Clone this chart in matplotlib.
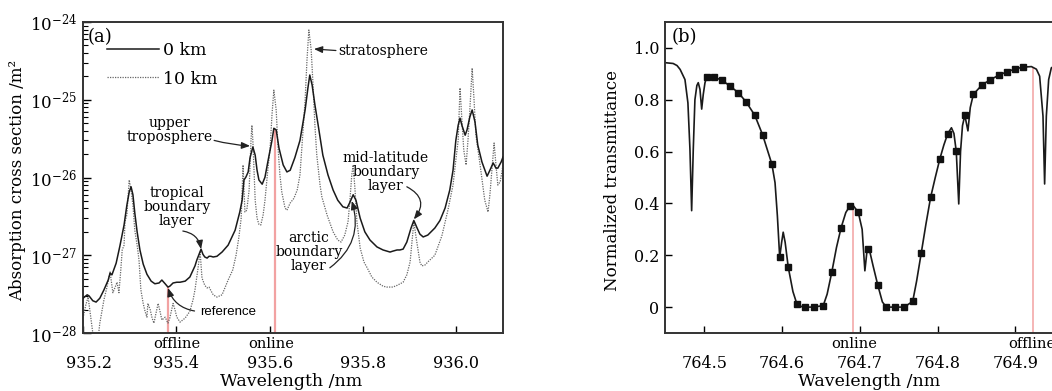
import numpy as np
import matplotlib
matplotlib.use("Agg")
import matplotlib.pyplot as plt
import matplotlib.transforms as mtransforms

# ---- panel (a): absorption cross section, 0 km and 10 km ----
wl_0km = [935.200, 935.209, 935.213, 935.221, 935.228, 935.236, 935.245, 935.254, 935.258, 935.262,
          935.271, 935.279, 935.288, 935.294, 935.299, 935.303, 935.307, 935.311, 935.316, 935.322,
          935.329, 935.337, 935.346, 935.354, 935.363, 935.369, 935.376, 935.382, 935.386, 935.393,
          935.401, 935.408, 935.419, 935.429, 935.440, 935.444, 935.453, 935.457, 935.461, 935.466,
          935.470, 935.474, 935.479, 935.487, 935.498, 935.511, 935.526, 935.536, 935.541, 935.545,
          935.549, 935.554, 935.558, 935.564, 935.569, 935.573, 935.577, 935.584, 935.590, 935.596,
          935.605, 935.609, 935.614, 935.620, 935.629, 935.637, 935.644, 935.654, 935.665, 935.676,
          935.682, 935.686, 935.691, 935.697, 935.704, 935.714, 935.725, 935.736, 935.746, 935.757,
          935.766, 935.772, 935.779, 935.785, 935.794, 935.804, 935.815, 935.830, 935.843, 935.858,
          935.864, 935.873, 935.879, 935.886, 935.894, 935.903, 935.909, 935.916, 935.922, 935.929,
          935.939, 935.954, 935.965, 935.976, 935.986, 935.993, 935.999, 936.004, 936.008, 936.012,
          936.019, 936.023, 936.029, 936.034, 936.040, 936.046, 936.055, 936.066, 936.072, 936.079,
          936.085, 936.089, 936.096, 936.100]
xs_0km = [2.8e-28, 3.1e-28, 3.0e-28, 2.6e-28, 2.5e-28, 2.8e-28, 3.6e-28, 4.8e-28, 5.9e-28, 5.6e-28,
          7.9e-28, 1.31e-27, 2.45e-27, 4.4e-27, 6.5e-27, 7.6e-27, 6.0e-27, 3.5e-27, 2.0e-27, 1.17e-27,
          7.7e-28, 5.7e-28, 4.65e-28, 4.3e-28, 4.4e-28, 4.8e-28, 4.3e-28, 3.9e-28, 4.0e-28, 4.4e-28,
          4.5e-28, 4.5e-28, 4.65e-28, 5.25e-28, 7.3e-28, 8.7e-28, 1.2e-27, 1.03e-27, 9.5e-28, 9.2e-28,
          9.7e-28, 9.7e-28, 9.5e-28, 9.7e-28, 1.10e-27, 1.35e-27, 2.1e-27, 3.6e-27, 5.1e-27, 9.3e-27,
          1.01e-26, 1.18e-26, 1.8e-26, 2.47e-26, 1.94e-26, 1.24e-26, 9.3e-27, 8.2e-27, 1.01e-26, 1.58e-26,
          3.0e-26, 4.3e-26, 4.1e-26, 2.39e-26, 1.45e-26, 1.18e-26, 1.24e-26, 1.8e-26, 3.0e-26, 7.4e-26,
          1.42e-25, 2.08e-25, 1.55e-25, 8.6e-26, 4.7e-26, 1.94e-26, 1.08e-26, 6.9e-27, 5.1e-27, 4.2e-27,
          4.05e-27, 4.8e-27, 6.0e-27, 5.1e-27, 3.0e-27, 2.0e-27, 1.57e-27, 1.28e-27, 1.17e-27, 1.10e-27,
          1.13e-27, 1.17e-27, 1.17e-27, 1.2e-27, 1.48e-27, 2.24e-27, 2.8e-27, 2.24e-27, 1.87e-27, 1.72e-27,
          1.82e-27, 2.24e-27, 2.8e-27, 4.05e-27, 6.9e-27, 1.24e-26, 3.0e-26, 4.7e-26, 5.8e-26, 4.7e-26,
          3.5e-26, 4.1e-26, 6.0e-26, 7.4e-26, 5.2e-26, 2.62e-26, 1.58e-26, 1.04e-26, 1.24e-26, 1.54e-26,
          1.32e-26, 1.32e-26, 1.58e-26, 1.83e-26]

wl_10km = [935.200, 935.206, 935.211, 935.215, 935.221, 935.226, 935.232, 935.236, 935.245, 935.251,
           935.258, 935.262, 935.264, 935.269, 935.273, 935.277, 935.281, 935.284, 935.288, 935.290,
           935.294, 935.299, 935.303, 935.307, 935.311, 935.316, 935.320, 935.324, 935.329, 935.333,
           935.337, 935.339, 935.344, 935.348, 935.352, 935.356, 935.361, 935.365, 935.369, 935.376,
           935.382, 935.386, 935.393, 935.397, 935.401, 935.408, 935.419, 935.429, 935.436, 935.440,
           935.446, 935.451, 935.455, 935.461, 935.466, 935.470, 935.479, 935.487, 935.498, 935.511,
           935.521, 935.528, 935.534, 935.539, 935.543, 935.545, 935.547, 935.551, 935.556, 935.560,
           935.562, 935.564, 935.569, 935.573, 935.577, 935.581, 935.586, 935.590, 935.596, 935.601,
           935.605, 935.609, 935.614, 935.618, 935.622, 935.626, 935.633, 935.637, 935.644, 935.652,
           935.659, 935.665, 935.669, 935.676, 935.680, 935.684, 935.689, 935.693, 935.697, 935.701,
           935.708, 935.712, 935.723, 935.736, 935.746, 935.753, 935.761, 935.768, 935.772, 935.776,
           935.779, 935.783, 935.787, 935.794, 935.802, 935.809, 935.819, 935.830, 935.843, 935.851,
           935.864, 935.873, 935.886, 935.894, 935.901, 935.905, 935.909, 935.914, 935.918, 935.922,
           935.926, 935.933, 935.939, 935.954, 935.969, 935.982, 935.993, 935.999, 936.004, 936.008,
           936.012, 936.016, 936.021, 936.025, 936.029, 936.034, 936.038, 936.042, 936.051, 936.061,
           936.068, 936.072, 936.076, 936.081, 936.085, 936.089, 936.094, 936.098, 936.100]
xs_10km = [1.56e-28, 2.3e-28, 2.9e-28, 1.9e-28, 1.0e-28, 7e-29, 8e-29, 1.34e-28, 2.7e-28, 3.8e-28,
           6.1e-28, 4.1e-28, 3.3e-28, 3.9e-28, 4.5e-28, 3.3e-28, 6.5e-28, 1.17e-27, 1.35e-27, 2.7e-27,
           3.3e-27, 9.3e-27, 6.9e-27, 4.4e-27, 2.1e-27, 1.35e-27, 8.7e-28, 3.6e-28, 2.4e-28, 1.9e-28,
           1.6e-28, 2.4e-28, 2.0e-28, 1.56e-28, 1.34e-28, 1.75e-28, 2.4e-28, 1.9e-28, 1.47e-28, 1.6e-28,
           1.34e-28, 1.56e-28, 2.4e-28, 2.0e-28, 1.6e-28, 1.38e-28, 1.56e-28, 1.9e-28, 2.7e-28, 3.6e-28,
           6.5e-28, 1.10e-27, 5.1e-28, 4.1e-28, 3.8e-28, 3.9e-28, 3.1e-28, 2.9e-28, 3.1e-28, 4.8e-28,
           6.5e-28, 1.0e-27, 1.7e-27, 3.0e-27, 1.45e-26, 7.1e-27, 3.6e-27, 3.8e-27, 6.9e-27, 3.0e-26,
           4.7e-26, 3.0e-26, 5.1e-27, 3.0e-27, 2.5e-27, 2.45e-27, 3.3e-27, 5.1e-27, 1.24e-26, 2.39e-26,
           6.4e-26, 1.33e-25, 7.4e-26, 2.39e-26, 1.08e-26, 6.5e-27, 4.05e-27, 3.8e-27, 4.7e-27, 5.4e-27,
           6.9e-27, 1.08e-26, 2.39e-26, 9.9e-26, 3.24e-25, 7.9e-25, 4.37e-25, 1.55e-25, 4.7e-26, 1.94e-26,
           8.0e-27, 5.6e-27, 3.3e-27, 2.0e-27, 1.57e-27, 1.48e-27, 1.82e-27, 2.7e-27, 5.1e-27, 1.08e-26,
           1.45e-26, 6.9e-27, 2.7e-27, 1.24e-27, 8.2e-28, 6.9e-28, 5.25e-28, 4.5e-28, 4.0e-28, 3.9e-28,
           3.9e-28, 4.1e-28, 4.5e-28, 5.6e-28, 8.2e-28, 1.48e-27, 2.7e-27, 1.67e-27, 1.17e-27, 8.2e-28,
           7.3e-28, 7.5e-28, 8.2e-28, 1.0e-27, 1.77e-27, 3.8e-27, 8.0e-27, 1.68e-26, 3.0e-26, 1.42e-25,
           5.5e-26, 2.26e-26, 1.45e-26, 3.0e-26, 7.4e-26, 2.56e-25, 1.0e-25, 3.5e-26, 1.45e-26, 5.1e-27,
           3.6e-27, 6.0e-27, 1.18e-26, 2.78e-26, 1.45e-26, 8.0e-27, 8.8e-27, 1.2e-26, 1.45e-26]

ticks_a = [935.2, 935.4, 935.6, 935.8, 936.0]
tick_labels_a = ["935.2", "935.4", "935.6", "935.8", "936.0"]
lines_a = [935.382, 935.611]           # offline, online
line_names_a = ["offline", "online"]
line_text_a = [935.400, 935.603]

# ---- panel (b): normalized transmittance ----
trans_wl = [764.440, 764.450, 764.460, 764.465, 764.469, 764.4752, 764.479, 764.4816, 764.4838, 764.4859,
            764.488, 764.4905, 764.4923, 764.4945, 764.4967, 764.4987, 764.5009, 764.503, 764.513, 764.523,
            764.533, 764.544, 764.554, 764.565, 764.575, 764.587, 764.591, 764.594, 764.597, 764.5995,
            764.6015, 764.604, 764.608, 764.614, 764.619, 764.625, 764.630, 764.641, 764.653, 764.658,
            764.664, 764.670, 764.676, 764.682, 764.687, 764.692, 764.698, 764.703, 764.7065, 764.709,
            764.711, 764.712, 764.717, 764.723, 764.729, 764.734, 764.745, 764.757, 764.768, 764.773,
            764.779, 764.785, 764.791, 764.797, 764.803, 764.808, 764.813, 764.8178, 764.821, 764.824,
            764.8272, 764.8295, 764.832, 764.835, 764.839, 764.842, 764.846, 764.857, 764.868, 764.879,
            764.889, 764.900, 764.910, 764.9206, 764.927, 764.9312, 764.9355, 764.9376, 764.9398, 764.9428,
            764.9462, 764.950, 764.980]
trans = [0.943, 0.943, 0.940, 0.932, 0.917, 0.878, 0.788, 0.61, 0.372, 0.61,
         0.80, 0.855, 0.866, 0.84, 0.764, 0.82, 0.865, 0.887, 0.887, 0.875,
         0.853, 0.827, 0.791, 0.740, 0.665, 0.551, 0.48, 0.353, 0.192, 0.25,
         0.289, 0.25, 0.154, 0.06, 0.013, 0.002, 0.0, 0.0, 0.006, 0.05,
         0.135, 0.23, 0.307, 0.365, 0.389, 0.39, 0.366, 0.30, 0.14, 0.21,
         0.23, 0.225, 0.16, 0.086, 0.02, 0.0, 0.0, 0.0, 0.022, 0.10,
         0.209, 0.32, 0.423, 0.50, 0.573, 0.625, 0.669, 0.692, 0.67, 0.601,
         0.398, 0.60, 0.70, 0.740, 0.68, 0.77, 0.821, 0.857, 0.878, 0.895,
         0.908, 0.919, 0.926, 0.928, 0.918, 0.891, 0.737, 0.475, 0.737, 0.878,
         0.923, 0.93, 0.93]
mark_wl = [764.503, 764.513, 764.523, 764.533, 764.544, 764.554, 764.565, 764.575, 764.587, 764.597,
           764.608, 764.619, 764.630, 764.641, 764.653, 764.664, 764.676, 764.687, 764.698, 764.710,
           764.723, 764.734, 764.745, 764.757, 764.768, 764.779, 764.791, 764.803, 764.813, 764.824,
           764.835, 764.846, 764.857, 764.868, 764.879, 764.889, 764.900, 764.910]
mark_val = [0.887, 0.887, 0.875, 0.853, 0.827, 0.791, 0.740, 0.665, 0.551, 0.192,
            0.154, 0.013, 0.0, 0.0, 0.006, 0.135, 0.307, 0.389, 0.366, 0.225,
            0.086, 0.0, 0.0, 0.0, 0.022, 0.209, 0.423, 0.573, 0.669, 0.601,
            0.740, 0.821, 0.857, 0.878, 0.895, 0.908, 0.919, 0.926]

ticks_b = [764.5, 764.6, 764.7, 764.8, 764.9]
yticks_b = [0, 0.2, 0.4, 0.6, 0.8, 1.0]
ytick_labels_b = ["0", "0.2", "0.4", "0.6", "0.8", "1.0"]
lines_b = [764.691, 764.9226]          # online, offline
line_names_b = ["online", "offline"]
line_text_b = [764.693, 764.921]

plt.rcParams["font.family"] = ["DejaVu Serif"]
plt.rcParams["mathtext.fontset"] = "dejavuserif"

RED = "#f2a2a2"
DARK = "#222222"

fig = plt.figure(figsize=(10.52, 3.91), dpi=100)
ax1 = fig.add_axes([0.0789, 0.1483, 0.3992, 0.7954])
ax2 = fig.add_axes([0.6321, 0.1483, 0.3878, 0.7954])

# ---------------- panel (a) ----------------
top_a = 10 ** np.interp(lines_a, wl_0km, np.log10(xs_0km))
ax1.vlines(lines_a, 1e-28, top_a, color=RED, lw=1.6, zorder=1)
ax1.plot(wl_10km, xs_10km, color="#666666", lw=0.9, ls=(0, (1, 1)), label="10 km", zorder=2)
ax1.plot(wl_0km, xs_0km, color="#1a1a1a", lw=1.1, label="0 km", zorder=3)
ax1.set_yscale("log")
ax1.set_ylim(1e-28, 1e-24)
ax1.set_xlim(935.2, 936.1)
ax1.set_xticks(ticks_a)
ax1.set_xticklabels(tick_labels_a)

handles, labels = ax1.get_legend_handles_labels()
ax1.legend(handles[::-1], labels[::-1], loc="upper left", bbox_to_anchor=(0.058, 0.935),
           frameon=False, fontsize=12.5, handlelength=3.0, handletextpad=0.2,
           labelspacing=0.65, borderpad=0, borderaxespad=0)

ax1.text(0.012, 0.952, "(a)", transform=ax1.transAxes, fontsize=13, va="center", ha="left")

for x, name in zip(line_text_a, line_names_a):
    ax1.text(x, -0.036, name, transform=ax1.get_xaxis_transform(), ha="center", va="center",
             fontsize=10.5)

ann_font = 10
arrow = dict(arrowstyle="-|>,head_length=0.5,head_width=0.2", color=DARK, lw=0.9,
             shrinkA=0, shrinkB=0)

ax1.text(935.746, 4.2e-25, "stratosphere", fontsize=ann_font, ha="left", va="center")
ax1.annotate("", xy=(935.695, 4.5e-25), xytext=(935.742, 4.3e-25), arrowprops=arrow)

ax1.text(935.386, 4.1e-26, "upper\ntroposphere", fontsize=ann_font, ha="center", va="center",
         linespacing=1.0)
ax1.annotate("", xy=(935.558, 2.55e-26), xytext=(935.481, 3.0e-26),
             arrowprops=dict(arrow, connectionstyle="arc3,rad=0.05"))

ax1.text(935.401, 4.2e-27, "tropical\nboundary\nlayer", fontsize=ann_font, ha="center",
         va="center", linespacing=1.0)
ax1.annotate("", xy=(935.453, 1.2e-27), xytext=(935.414, 2.05e-27),
             arrowprops=dict(arrow, connectionstyle="arc3,rad=-0.35"))

ax1.text(935.451, 1.86e-28, "reference", fontsize=9.5, ha="left", va="center",
         family="Liberation Sans")
ax1.annotate("", xy=(935.382, 3.8e-28), xytext=(935.439, 1.92e-28),
             arrowprops=dict(arrow, connectionstyle="arc3,rad=-0.3"))

ax1.text(935.684, 1.1e-27, "arctic\nboundary\nlayer", fontsize=ann_font, ha="center",
         va="center", linespacing=1.0)
ax1.annotate("", xy=(935.776, 5.0e-27), xytext=(935.729, 6.9e-28),
             arrowprops=dict(arrow, connectionstyle="arc3,rad=0.35"))

ax1.text(935.849, 1.18e-26, "mid-latitude\nboundary\nlayer", fontsize=ann_font, ha="center",
         va="center", linespacing=1.0)
ax1.annotate("", xy=(935.909, 2.9e-27), xytext=(935.894, 7.6e-27),
             arrowprops=dict(arrow, connectionstyle="arc3,rad=-0.6"))

ax1.set_xlabel("Wavelength /nm", fontsize=12.5)
ax1.xaxis.set_label_coords(0.495, -0.127)
ax1.set_ylabel("Absorption cross section /m²", fontsize=12)
ax1.yaxis.set_label_coords(-0.135, 0.49)

ax1.tick_params(axis="x", which="major", direction="in", length=5, width=1.0, pad=16,
                labelsize=11.5, top=False)
ax1.tick_params(axis="y", which="major", direction="in", length=6, width=1.0, pad=4,
                labelsize=12, right=False)
ax1.tick_params(axis="y", which="minor", direction="in", length=3.5, width=0.8, right=False)
ax1.tick_params(axis="x", which="minor", bottom=False, top=False)
for sp in ax1.spines.values():
    sp.set_linewidth(1.4)
    sp.set_color("#333333")

# nudge the first x tick label off the left spine, as in the original
first = ax1.get_xticklabels()[0]
first.set_transform(first.get_transform() +
                    mtransforms.ScaledTranslation(6 / 100, 0, fig.dpi_scale_trans))

# ---------------- panel (b) ----------------
top_b = np.interp(lines_b, trans_wl, trans)
ax2.vlines(lines_b, -0.1, top_b, color=RED, lw=1.1, zorder=1)
ax2.plot(trans_wl, trans, color="#1a1a1a", lw=1.2, zorder=2)
ax2.plot(mark_wl, mark_val, ls="none", marker="s", ms=4.6, color="#111111", zorder=3)
ax2.set_xlim(764.4495, 764.974)
ax2.set_ylim(-0.1, 1.1)
ax2.set_xticks(ticks_b)
ax2.set_xticklabels([f"{t:.1f}" for t in ticks_b])
ax2.set_yticks(yticks_b)
ax2.set_yticklabels(ytick_labels_b)

ax2.text(0.017, 0.952, "(b)", transform=ax2.transAxes, fontsize=13, va="center", ha="left")
for x, name in zip(line_text_b, line_names_b):
    ax2.text(x, -0.036, name, transform=ax2.get_xaxis_transform(), ha="center", va="center",
             fontsize=10.5)

ax2.set_xlabel("Wavelength /nm", fontsize=12.5)
ax2.xaxis.set_label_coords(0.5, -0.127)
ax2.set_ylabel("Normalized transmittance", fontsize=12)
ax2.yaxis.set_label_coords(-0.108, 0.49)
ax2.tick_params(axis="x", direction="in", length=5, width=1.0, pad=16, labelsize=11.5, top=False)
ax2.tick_params(axis="y", direction="in", length=5, width=1.0, pad=4, labelsize=11.5, right=False)
for sp in ax2.spines.values():
    sp.set_linewidth(1.4)
    sp.set_color("#333333")

fig.savefig("out.png", dpi=100)
